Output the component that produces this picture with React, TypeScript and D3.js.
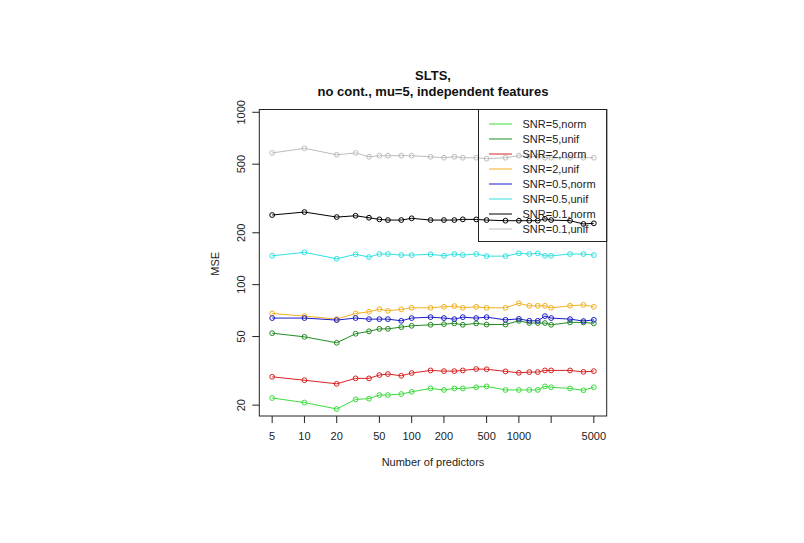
import React from "react";
import * as d3 from "d3";

const predictors = [5, 10, 20, 30, 40, 50, 60, 80, 100, 150, 200, 250, 300, 400, 500, 750, 1000, 1250, 1500, 1750, 2000, 3000, 4000, 5000];

const snr5Norm = [22.0, 20.7, 19.0, 21.6, 21.8, 22.9, 22.9, 23.2, 23.9, 25.0, 24.5, 25.0, 25.0, 25.4, 25.7, 24.5, 24.5, 24.5, 24.5, 25.7, 25.4, 25.0, 24.4, 25.4];
const snr5Unif = [52.3, 49.8, 46.0, 51.9, 53.6, 55.4, 55.4, 56.7, 57.7, 58.5, 59.0, 59.6, 58.5, 59.6, 58.7, 58.7, 61.7, 59.9, 59.9, 59.9, 58.5, 60.4, 60.4, 59.6];
const snr2Norm = [29.2, 27.9, 26.6, 28.6, 28.6, 29.9, 30.3, 29.6, 30.7, 31.8, 31.5, 31.5, 31.8, 32.4, 32.3, 31.4, 30.8, 31.1, 31.1, 31.8, 31.8, 31.8, 31.2, 31.5];
const snr2Unif = [68.1, 65.7, 63.1, 68.1, 69.6, 72.1, 70.5, 71.9, 73.4, 73.4, 74.4, 75.1, 73.4, 74.4, 73.4, 73.4, 77.9, 75.4, 75.4, 75.4, 73.4, 75.4, 76.3, 74.4];
const snr05Norm = [64.0, 64.0, 62.3, 64.0, 63.1, 63.1, 63.1, 61.7, 64.0, 64.8, 64.0, 63.1, 64.8, 64.0, 64.8, 62.5, 63.3, 61.7, 61.7, 65.7, 64.0, 63.1, 61.5, 62.5];
const snr05Unif = [147, 154, 141.3, 150, 144.6, 150.6, 150.6, 148.5, 148.5, 150, 147, 150.6, 148.5, 150.6, 146.4, 146.4, 152, 150.6, 152, 147, 147, 150.6, 150.6, 148.5];
const snr01Norm = [253.5, 263.8, 246.7, 251, 244.5, 239.3, 237, 237, 242.6, 237, 237, 237, 239.3, 239, 237, 235, 235, 235, 235, 241, 237, 235, 225, 227];
const snr01Unif = [581, 618, 567, 581, 552, 560, 560, 560, 560, 552, 545, 552, 545, 545, 538, 545, 560, 552, 552, 545, 545, 545, 545, 545];

const seriesNames = ["SNR=5,norm", "SNR=5,unif", "SNR=2,norm", "SNR=2,unif", "SNR=0.5,norm", "SNR=0.5,unif", "SNR=0.1,norm", "SNR=0.1,unif"];
const seriesColors = ["#3cdc3c", "#238b23", "#d82222", "#f2b020", "#1c1cc8", "#30e0e0", "#000000", "#bdbdbd"];
const seriesValues = [snr5Norm, snr5Unif, snr2Norm, snr2Unif, snr05Norm, snr05Unif, snr01Norm, snr01Unif];

const xTicks = [5, 10, 20, 50, 100, 200, 500, 1000, 2000, 5000];
const xTickLabels = ["5", "10", "20", "50", "100", "200", "500", "1000", "", "5000"];
const yTicks = [20, 50, 100, 200, 500, 1000];

const font = "Liberation Sans, Arial, sans-serif";

export default function App() {
  const left = 259.3, right = 606.7, top = 109.5, bottom = 416;

  // log axes with R's 4% padding on x
  const x = d3.scaleLog().domain([5 / Math.pow(10, 0.12), 5000 * Math.pow(10, 0.12)]).range([left, right]);
  const y = d3.scaleLog().domain([17.3, 1038]).range([bottom, top]);

  const line = d3
    .line<number>()
    .x((_, i) => x(predictors[i]))
    .y((d) => y(d));

  const cx = (left + right) / 2;
  const legX = 478.5, legY = top, legW = right - 478.5, legH = 241.5 - top;

  return (
    <svg width={804} height={543} style={{ position: "absolute", left: 0, top: 0, background: "#fff" }} fontFamily={font}>
      <rect x={0} y={0} width={804} height={543} fill="#fff" />

      {/* title */}
      <text x={cx} y={80} textAnchor="middle" fontSize={13} fontWeight="bold" fill="#111">SLTS,</text>
      <text x={cx} y={96} textAnchor="middle" fontSize={13} fontWeight="bold" fill="#111">no cont., mu=5, independent features</text>

      {/* series */}
      {seriesValues.map((vals, s) => (
        <g key={seriesNames[s]}>
          <path d={line(vals) || ""} fill="none" stroke={seriesColors[s]} strokeWidth={1} />
          {vals.map((v, i) => (
            <circle key={i} cx={x(predictors[i])} cy={y(v)} r={2.4} fill="none" stroke={seriesColors[s]} strokeWidth={1} />
          ))}
        </g>
      ))}

      {/* plot box */}
      <rect x={left} y={top} width={right - left} height={bottom - top} fill="none" stroke="#222" strokeWidth={1} />

      {/* x axis */}
      <g>
        {xTicks.map((t, i) => (
          <g key={t}>
            <line x1={x(t)} x2={x(t)} y1={bottom} y2={bottom + 7} stroke="#222" />
            <text x={x(t)} y={440} textAnchor="middle" fontSize={11} fill="#222">{xTickLabels[i]}</text>
          </g>
        ))}
        <text x={cx} y={466} textAnchor="middle" fontSize={11} fill="#222">Number of predictors</text>
      </g>

      {/* y axis */}
      <g>
        {yTicks.map((t) => (
          <g key={t}>
            <line x1={left} x2={left - 7} y1={y(t)} y2={y(t)} stroke="#222" />
            <text
              transform={`translate(241, ${y(t)}) rotate(-90)`}
              textAnchor="middle"
              dominantBaseline="central"
              fontSize={11}
              fill="#222"
            >
              {t}
            </text>
          </g>
        ))}
        <text transform={`translate(215.3, ${(top + bottom) / 2 + 1}) rotate(-90)`} textAnchor="middle" dominantBaseline="central" fontSize={11} fill="#222">
          MSE
        </text>
      </g>

      {/* legend, transparent background like R */}
      <rect x={legX} y={legY} width={legW} height={legH} fill="none" stroke="#222" strokeWidth={1} />
      {seriesNames.map((name, i) => {
        const ly = 124 + i * 15;
        return (
          <g key={name}>
            <line x1={489} x2={512} y1={ly} y2={ly} stroke={seriesColors[i]} strokeWidth={1} />
            <text x={522.5} y={ly} dominantBaseline="central" fontSize={11} fill="#222">{name}</text>
          </g>
        );
      })}
    </svg>
  );
}
